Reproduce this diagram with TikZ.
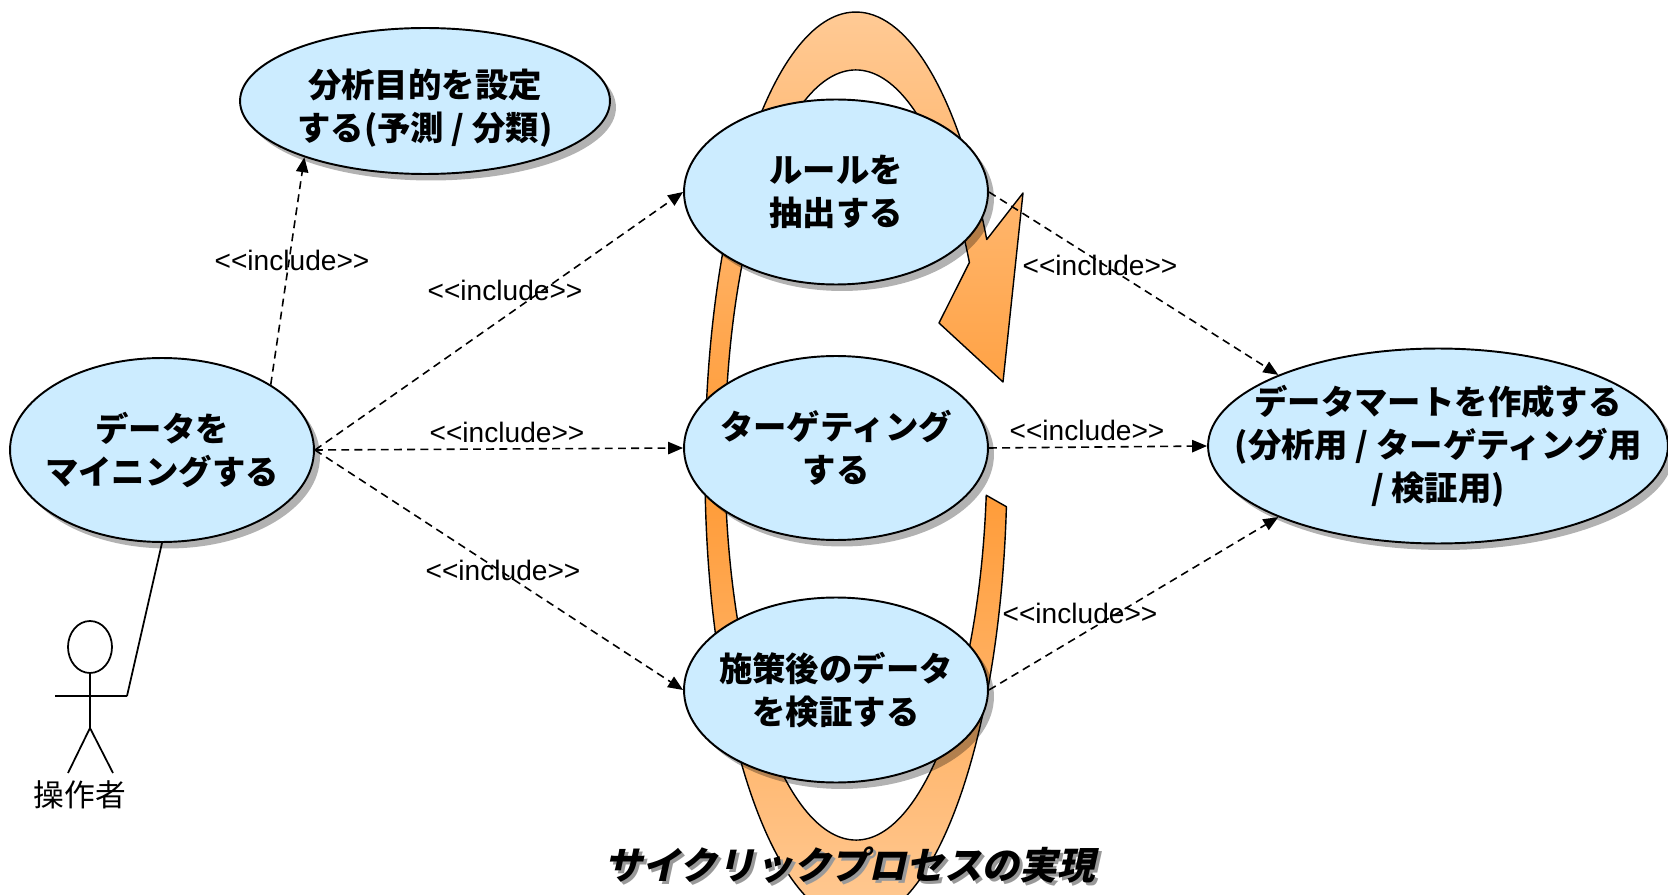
\documentclass[tikz,border=0pt]{standalone}
\usepackage{fontspec}
\usetikzlibrary{arrows.meta,shapes.geometric,shadows}
\newfontfamily\jpfont{Noto Sans CJK JP}
\newfontfamily\jpslant{Noto Sans CJK JP}[FakeSlant=0.22,BoldFeatures={FakeSlant=0.22}]
\newfontfamily\latinfont{Liberation Sans}
\definecolor{casefill}{RGB}{204,236,255}
\definecolor{ringlight}{RGB}{255,204,153}
\definecolor{ringdark}{RGB}{255,153,51}
\tikzset{
  usecase/.style 2 args={ellipse,draw,line width=1.1pt,fill=casefill,inner sep=0pt,
    minimum width=#1,minimum height=#2,
    drop shadow={shadow xshift=0.12cm,shadow yshift=-0.13cm,fill=black,opacity=0.3}},
  casetext/.style={align=center,font=\jpfont\bfseries\fontsize{19}{24.5}\selectfont},
  incl/.style={->,dash pattern=on 4.5pt off 3pt,line width=0.9pt},
  incltext/.style={font=\latinfont\fontsize{16}{18}\selectfont,inner sep=1pt},
}
\begin{document}
\begin{tikzpicture}[x=0.02cm,y=-0.02cm,>={Triangle[length=8.5pt,width=7pt]},line join=round]
	\path[use as bounding box,clip] (0,0) rectangle (1668,895);
	% cycle ring behind the use cases
	\draw[line width=0.8pt,top color=ringlight,bottom color=ringlight,middle color=ringdark]
		(1006.4,506.7) arc[start angle=5,end angle=330,x radius=151,y radius=455]
		-- (1023,193) -- (1003,382) -- (939,323)
		-- (969.4,262.5) arc[start angle=330,end angle=6,x radius=131,y radius=385] -- cycle;
	\node[usecase={7.4cm}{2.92cm},label={[casetext,yshift=-0.15cm]center:分析目的を設定\\する(予測 / 分類)}] (goal) at (425,101) {};
	\node[usecase={6.08cm}{3.68cm},label={[casetext]center:データを\\マイニングする}] (mine) at (162,450) {};
	\node[usecase={6.08cm}{3.7cm},label={[casetext]center:ルールを\\抽出する}] (rule) at (836,192) {};
	\node[usecase={6.08cm}{3.68cm},label={[casetext]center:ターゲティング\\する}] (target) at (836,448) {};
	\node[usecase={6.08cm}{3.7cm},label={[casetext]center:施策後のデータ\\を検証する}] (verify) at (836,690) {};
	\node[usecase={9.2cm}{3.9cm},label={[casetext]center:データマートを作成する\\(分析用 / ターゲティング用\\/ 検証用)}] (mart) at (1438,446) {};
	% actor
	\draw[line width=1pt] (90,647) ellipse[x radius=22,y radius=26];
	\draw[line width=1pt] (90,673) -- (90,728) (55,696) -- (127,696) (68,773) -- (90,728) -- (113,773);
	\coordinate (hand) at (127,696);
	\node[font=\jpfont\fontsize{17.5}{20}\selectfont] (actor) at (80,795) {操作者};
	\draw[line width=1pt] (hand) -- (mine.south);
	% include relations
	\draw[incl] (mine.31) -- (goal.205);
	\draw[incl] (mine.east) -- (rule.west);
	\draw[incl] (mine.east) -- (target.west);
	\draw[incl] (mine.east) -- (verify.west);
	\draw[incl] (rule.east) -- (mart.156);
	\draw[incl] (target.east) -- (mart.west);
	\draw[incl] (verify.east) -- (mart.204);
	\node[incltext] (l1) at (292,260) {<\kern0pt<include>\kern0pt>};
	\node[incltext] (l2) at (505,290) {<\kern0pt<include>\kern0pt>};
	\node[incltext] (l3) at (507,432) {<\kern0pt<include>\kern0pt>};
	\node[incltext] (l4) at (503,570) {<\kern0pt<include>\kern0pt>};
	\node[incltext] (l5) at (1100,265) {<\kern0pt<include>\kern0pt>};
	\node[incltext] (l6) at (1087,430) {<\kern0pt<include>\kern0pt>};
	\node[incltext] (l7) at (1080,613) {<\kern0pt<include>\kern0pt>};
	% title with its shadow
	\node[font=\jpslant\bfseries\fontsize{21.5}{24}\selectfont,text=black!40] (titleshadow) at (853,868) {サイクリックプロセスの実現};
	\node[font=\jpslant\bfseries\fontsize{21.5}{24}\selectfont] (title) at (850,865) {サイクリックプロセスの実現};
\end{tikzpicture}
\end{document}
